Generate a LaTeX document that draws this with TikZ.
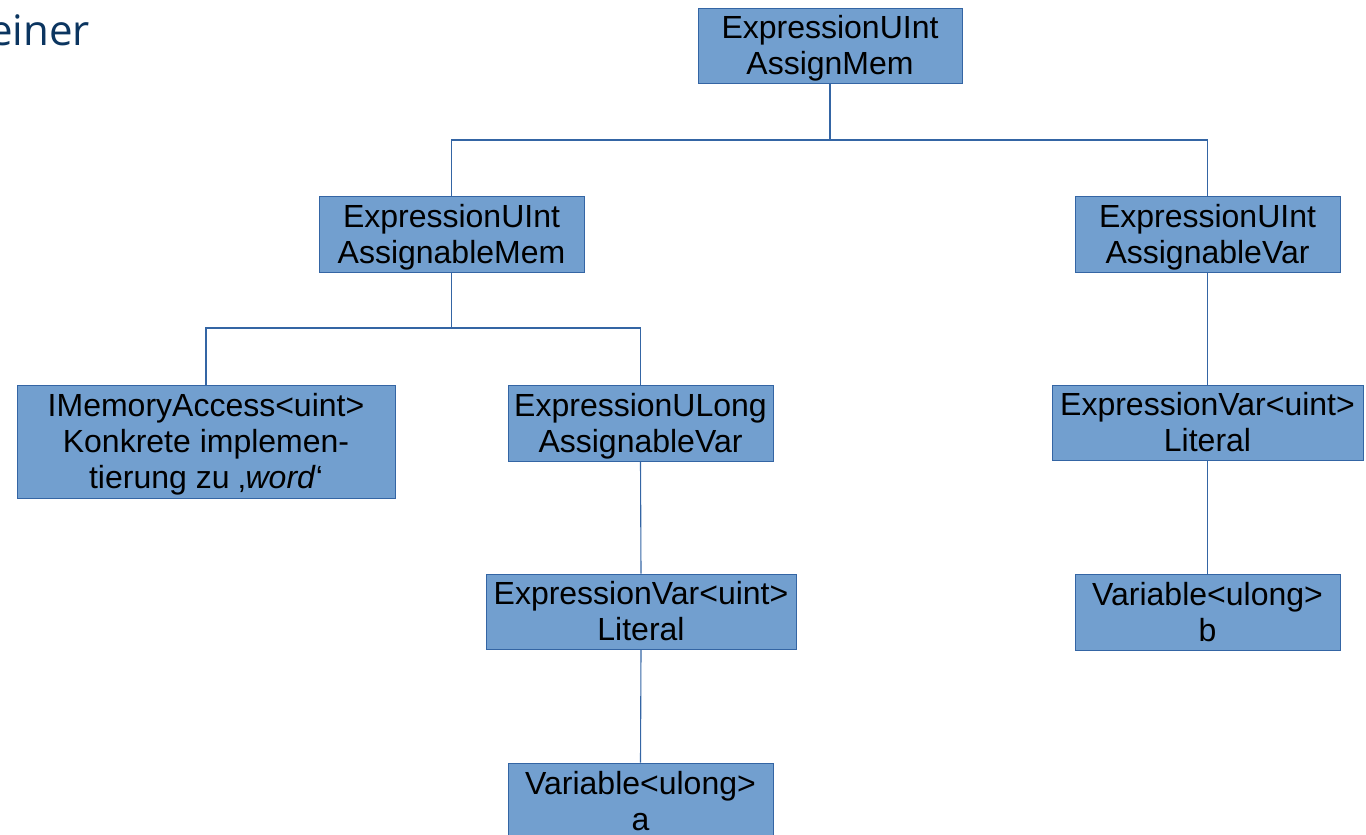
\documentclass[tikz,border=0pt]{standalone}
\usepackage{fontspec}
\setmainfont{Liberation Sans}
\newfontfamily\titlefont{Open Sans}
\definecolor{boxfill}{HTML}{729FCF}
\definecolor{boxline}{HTML}{3465A4}
\definecolor{titleblue}{HTML}{0B3560}
% line strut with the font's own ascent and descent
\newcommand\lstrut{\rule[-6.8pt]{0pt}{35.8pt}}
\begin{document}
\begin{tikzpicture}[x=1pt,y=-1pt,
  box/.style={draw=boxline, line width=0.9pt, fill=boxfill, align=center,
    inner sep=0pt, font=\fontsize{32}{36}\selectfont, text=black},
  link/.style={draw=boxline, line width=1.1pt}]
\useasboundingbox (0,0) rectangle (1366,835);
\clip (0,0) rectangle (1366,835);

% slide heading fragment
\node[anchor=base east, font=\titlefont\fontsize{42}{50}\selectfont, text=titleblue, inner sep=0pt] (title) at (90,45) {einer};

% tree nodes
\node[box, minimum width=264, minimum height=75] (root) at (830,45.5) {\lstrut ExpressionUInt\\\lstrut AssignMem};
\node[box, minimum width=265, minimum height=76] (amem) at (451.5,234) {\lstrut ExpressionUInt\\\lstrut AssignableMem};
\node[box, minimum width=265, minimum height=76] (avar) at (1207.5,234) {\lstrut ExpressionUInt\\\lstrut AssignableVar};
\node[box, minimum width=378, minimum height=113] (imem) at (206,441.5) {\lstrut IMemoryAccess<uint>\\\lstrut Konkrete implemen-\\\lstrut tierung zu ‚\textit{word}‘};
\node[box, minimum width=265, minimum height=76] (ulong) at (640.5,423) {\lstrut ExpressionULong\\\lstrut AssignableVar};
\node[box, minimum width=311, minimum height=75] (evr) at (1207.5,422.5) {\lstrut ExpressionVar<uint>\\\lstrut Literal};
\node[box, minimum width=310, minimum height=75] (evm) at (641,611.5) {\lstrut ExpressionVar<uint>\\\lstrut Literal};
\node[box, minimum width=265, minimum height=76] (vb) at (1207.5,612) {\lstrut Variable<ulong>\\\lstrut b};
\node[box, minimum width=265, minimum height=76] (va) at (640.5,801) {\lstrut Variable<ulong>\\\lstrut a};

% bus levels
\coordinate (bus1) at (830,140);
\coordinate (bus2) at (451.5,328);

% connectors
\draw[link] (root.south) -- (root.south |- bus1) -| (amem.north);
\draw[link] (root.south |- bus1) -| (avar.north);
\draw[link] (amem.south) -- (amem.south |- bus2) -| (imem.north);
\draw[link] (amem.south |- bus2) -| (ulong.north);
\draw[link] (avar.south) -- (evr.north);
\draw[link] (evr.south) -- (vb.north);
\draw[link] (ulong.south) -- (evm.north);
\draw[link] (evm.south) -- (va.north);
\end{tikzpicture}
\end{document}
